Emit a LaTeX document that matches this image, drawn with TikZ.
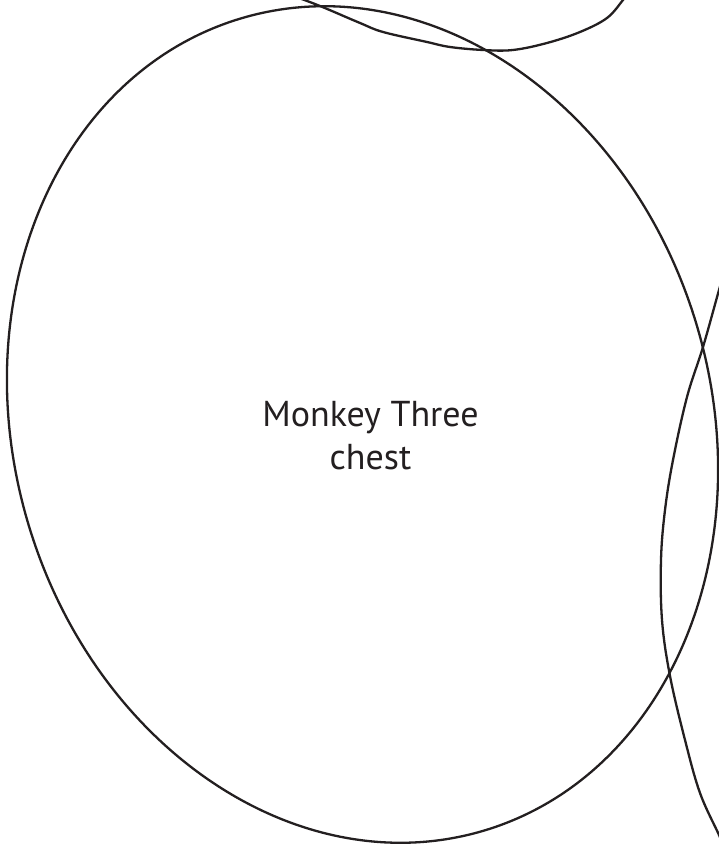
\documentclass[tikz,border=0pt]{standalone}
\usepackage{fontspec}
\setmainfont{PT Sans}
\definecolor{ink}{RGB}{35,31,32}
\begin{document}
\begin{tikzpicture}[x=1pt,y=1pt,
  outline/.style={draw=ink,line width=2.3pt},
  labeltext/.style={text=ink,align=center,font=\fontsize{36}{43}\selectfont,inner sep=0pt}]
\useasboundingbox (0,0) rectangle (719,846);
\clip (0,0) rectangle (719,846);
% main chest ellipse
\draw[outline,rotate around={16.7:(362.5,421.5)}] (362.5,421.5) ellipse [x radius=348.7, y radius=423.9];
% top curve
\draw[outline] plot[smooth,tension=0.6] coordinates {(296,849) (320,840) (360,823) (383,814) (427,804) (450,799) (483,796) (513,796) (547,803) (580,814) (607,828) (623,846) (626,850)};
% right curve
\draw[outline] plot[smooth,tension=0.6] coordinates {(727,584) (719,556) (703,499) (687,449) (673,386) (665,336) (661,286) (662,226) (670,170) (685,106) (700,53) (719,11) (725,-4)};
\coordinate (c) at (370.5,376);
\node[labeltext,anchor=base] (lbl) at (c) {Monkey Three\\chest};
\end{tikzpicture}
\end{document}
